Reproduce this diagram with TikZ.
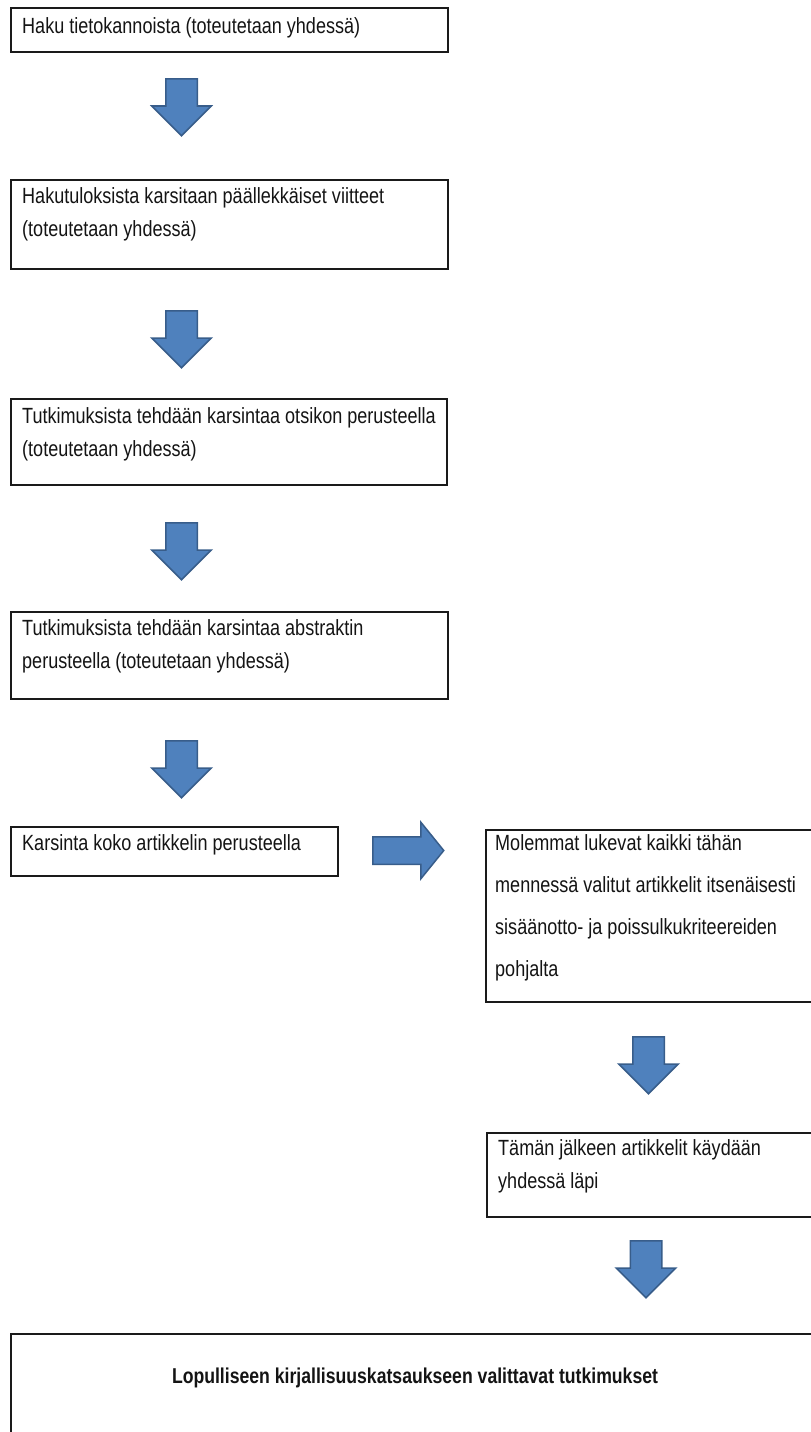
\documentclass[tikz,border=0pt]{standalone}
\usepackage{fontspec}
\setmainfont{Liberation Sans}[FakeStretch=0.82]
\usetikzlibrary{shapes.arrows,calc}
\definecolor{nuolisin}{HTML}{4F81BD}
\definecolor{nuolireuna}{HTML}{385D8A}
\definecolor{reuna}{HTML}{1A1A1A}
\definecolor{teksti}{HTML}{141414}

\tikzset{
  vaihe/.style={draw=reuna,line width=1.6pt,anchor=north west,inner sep=0pt},
  vaiheteksti/.style={anchor=north west,inner sep=0pt,align=left,text=teksti,
    font=\fontsize{22}{33}\selectfont,execute at begin node={\rule{0pt}{16pt}}},
  nuoli/.style={single arrow,fill=nuolisin,draw=nuolireuna,line width=1.5pt,anchor=tail,
    inner xsep=0pt,inner ysep=15pt,single arrow head extend=14pt,minimum height=57pt}
}

\begin{document}
\begin{tikzpicture}[x=1pt,y=-1pt]
  \useasboundingbox (0,0) rectangle (811,1432);
  \clip (0,0) rectangle (811,1432);
  % vasen sarake
  \node[vaihe,minimum width=437pt,minimum height=44pt] (haku) at (10,7) {};
  \node[vaiheteksti] (haku-t) at ($(haku.north west)+(12,10)$) {Haku tietokannoista (toteutetaan yhdessä)};
  \node[nuoli,rotate=-90] (n1) at (181.5,78) {};

  \node[vaihe,minimum width=437pt,minimum height=89pt] (dupl) at (10,179) {};
  \node[vaiheteksti] (dupl-t) at ($(dupl.north west)+(12,8)$) {Hakutuloksista karsitaan päällekkäiset viitteet\\(toteutetaan yhdessä)};
  \node[nuoli,rotate=-90] (n2) at (181.5,310) {};

  \node[vaihe,minimum width=436pt,minimum height=86pt] (otsikko) at (10,398) {};
  \node[vaiheteksti] (otsikko-t) at ($(otsikko.north west)+(12,9)$) {Tutkimuksista tehdään karsintaa otsikon perusteella\\(toteutetaan yhdessä)};
  \node[nuoli,rotate=-90] (n3) at (181.5,522) {};

  \node[vaihe,minimum width=437pt,minimum height=87pt] (abstr) at (10,611) {};
  \node[vaiheteksti] (abstr-t) at ($(abstr.north west)+(12,8)$) {Tutkimuksista tehdään karsintaa abstraktin\\perusteella (toteutetaan yhdessä)};
  \node[nuoli,rotate=-90] (n4) at (181.5,740) {};

  \node[vaihe,minimum width=327pt,minimum height=49pt] (koko) at (10,826) {};
  \node[vaiheteksti] (koko-t) at ($(koko.north west)+(12,8)$) {Karsinta koko artikkelin perusteella};
  \node[nuoli,inner ysep=13pt,minimum height=71pt,single arrow head extend=14.5pt,
    single arrow tip angle=102] (n5) at (372,850.5) {};

  % oikea sarake
  \node[vaihe,minimum width=335pt,minimum height=172pt] (lukevat) at (485,829) {};
  \node[vaiheteksti,font=\fontsize{22}{42}\selectfont] (lukevat-t) at ($(lukevat.north west)+(10,5)$)
    {Molemmat lukevat kaikki tähän\\mennessä valitut artikkelit itsenäisesti\\sisäänotto- ja poissulkukriteereiden\\pohjalta};
  \node[nuoli,rotate=-90] (n6) at (648.5,1036) {};

  \node[vaihe,minimum width=334pt,minimum height=84pt] (lapi) at (486,1132) {};
  \node[vaiheteksti] (lapi-t) at ($(lapi.north west)+(12,7)$) {Tämän jälkeen artikkelit käydään\\yhdessä läpi};
  \node[nuoli,rotate=-90] (n7) at (646,1240) {};

  % lopputulos
  \node[vaihe,minimum width=810pt,minimum height=120pt] (lopull) at (10,1333) {};
  \node[vaiheteksti,anchor=base,font=\fontsize{21.5}{33}\selectfont\bfseries] (lopull-t)
    at ($(lopull.north west)+(405,50)$) {Lopulliseen kirjallisuuskatsaukseen valittavat tutkimukset};
\end{tikzpicture}
\end{document}
